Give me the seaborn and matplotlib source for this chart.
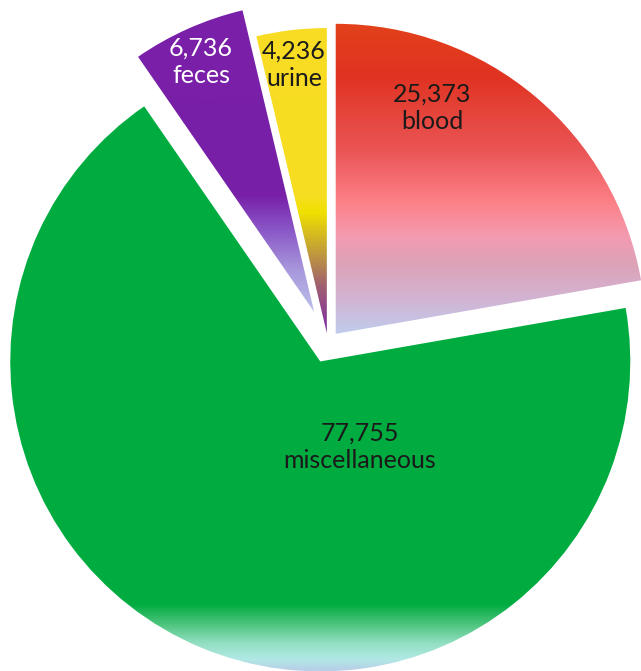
import numpy as np
import matplotlib
matplotlib.use("Agg")
import matplotlib.pyplot as plt
from matplotlib.colors import LinearSegmentedColormap
import seaborn as sns

# ---- data ----
categories = ["blood", "miscellaneous", "feces", "urine"]
values = [25373, 77755, 6736, 4236]
explode = [12, 20, 34, 10]  # offsets in px (data units)

# gradient stops (image y in px from top, colour) per wedge
gradients = {
    "blood": [(20, "#E2421A"), (75, "#E03322"), (150, "#EA5555"), (200, "#FC7F86"),
              (235, "#F49AB0"), (265, "#DCA3B8"), (300, "#D2B4D4"), (340, "#BCD0F0")],
    "miscellaneous": [(0, "#00AC40"), (605, "#00AC40"), (625, "#4CC47C"), (645, "#94E0C4"),
                      (660, "#B0E8E4"), (671, "#B8D0E8")],
    "feces": [(0, "#7A1FA8"), (195, "#7820A8"), (230, "#8A58C8"), (270, "#A898DC"),
              (320, "#C0C8EC")],
    "urine": [(0, "#F8DC24"), (195, "#F6DE22"), (212, "#F0E000"), (245, "#C8A830"),
              (285, "#A06070"), (335, "#7A28A8")],
}
text_colors = {"blood": "#1a1a1a", "miscellaneous": "#1a1a1a", "feces": "white", "urine": "#1a1a1a"}
# text anchor (image px)
text_pos = {"blood": (432, 108), "miscellaneous": (360, 447), "feces": (201, 62), "urine": (294, 65)}

W, H = 641, 671
sns.set_style("white")
plt.rcParams["font.family"] = ["Lato", "DejaVu Sans"]

fig = plt.figure(figsize=(W / 100, H / 100), dpi=100)
ax = fig.add_axes([0, 0, 1, 1])

cx, cy = 328, 343
wedges, _ = ax.pie(values, explode=explode, startangle=90, counterclock=False,
                   center=(cx, H - cy), radius=310,
                   wedgeprops=dict(facecolor="none", edgecolor="none", linewidth=0))
wedges[3].set_radius(305)
ax.set_xlim(0, W)
ax.set_ylim(0, H)
ax.set_aspect("auto")
ax.axis("off")

grad = np.linspace(0, 1, 1024).reshape(-1, 1)
for w, cat in zip(wedges, categories):
    stops = gradients[cat]
    pts = [(min(max(y / H, 0), 1), c) for y, c in stops]
    if pts[0][0] > 0:
        pts = [(0.0, pts[0][1])] + pts
    if pts[-1][0] < 1:
        pts = pts + [(1.0, pts[-1][1])]
    cmap = LinearSegmentedColormap.from_list(cat, pts)
    im = ax.imshow(grad, extent=[0, W, 0, H], origin="upper", cmap=cmap,
                   aspect="auto", interpolation="bilinear", zorder=1)
    im.set_clip_path(w)

for cat, v in zip(categories, values):
    x, y = text_pos[cat]
    ax.text(x, H - y, f"{v:,}\n{cat}", ha="center", va="center", fontsize=18,
            color=text_colors[cat], linespacing=1.25, zorder=5)

fig.savefig("out.png", dpi=100)
